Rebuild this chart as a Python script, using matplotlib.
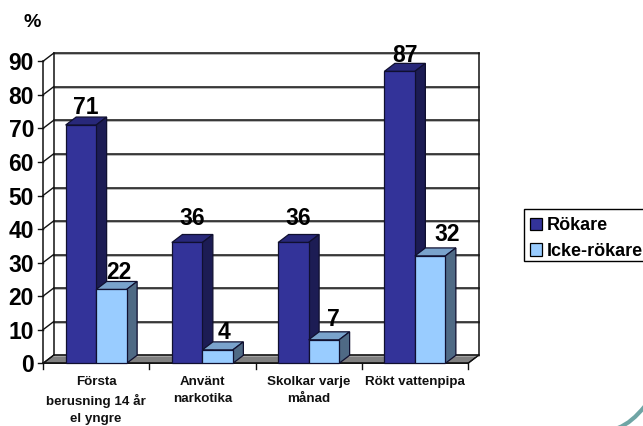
import matplotlib
matplotlib.use("Agg")
import matplotlib.pyplot as plt
from matplotlib.patches import Polygon, Patch, PathPatch, Rectangle
from matplotlib.path import Path
from matplotlib.transforms import Affine2D

plt.rcParams['font.family'] = ['Liberation Sans', 'DejaVu Sans']
plt.rcParams['font.weight'] = 'bold'

categories = ["Första\nberusning 14 år\nel yngre", "Använt\nnarkotika", "Skolkar varje\nmånad", "Rökt vattenpipa"]
rokare = [71, 36, 36, 87]
icke_rokare = [22, 4, 7, 32]
yticks = list(range(0, 100, 10))
series_names = ["Rökare", "Icke-rökare"]

W, H = 643, 426
fig = plt.figure(figsize=(W/100, H/100), dpi=100, facecolor='white')
# front plane of the 3D box in pixels
L, R, T, B = 43.0, 468.0, 61.3, 363.3
ax = fig.add_axes([L/W, 1-B/H, (R-L)/W, (B-T)/H])
ax.set_xlim(0, 4)
ax.set_ylim(0, 90)
ax.axis('off')

dx = 10.5/(R-L)*4
dy = 8.0/(B-T)*90
bw = 30.5/(R-L)*4
LC = '#111111'

# floor
ax.add_patch(Polygon([(0, 0), (dx, dy), (4+dx, dy), (4, 0)], closed=True, fc='#808080', ec='black', lw=0.8, clip_on=False, zorder=1))
# walls / gridlines
for v in yticks:
    ax.plot([dx, 4+dx], [v+dy, v+dy], color='#aaaaaa', lw=1.2, clip_on=False, zorder=1.5, transform=ax.transData + Affine2D().translate(0, -1))
    ax.plot([dx, 4+dx], [v+dy, v+dy], color=LC, lw=1.1, clip_on=False, zorder=2)
    ax.plot([0, dx], [v, v+dy], color=LC, lw=1.0, clip_on=False, zorder=2)
    ax.plot([-5.5/(R-L)*4, 0], [v, v], color=LC, lw=1.0, clip_on=False, zorder=2)
    ax.text(-9/(R-L)*4, v, str(v), ha='right', va='center_baseline', fontsize=16.5, color='black', clip_on=False)
ax.plot([0, 0], [0, 90], color=LC, lw=1.1, clip_on=False, zorder=2)
ax.plot([dx, dx], [dy, 90+dy], color=LC, lw=1.1, clip_on=False, zorder=2)
ax.plot([4+dx, 4+dx], [dy, 90+dy], color=LC, lw=1.1, clip_on=False, zorder=2)
ax.plot([0, 4], [0, 0], color=LC, lw=1.1, clip_on=False, zorder=2)
ax.plot([4, 4+dx], [0, dy], color=LC, lw=1.0, clip_on=False, zorder=2)
for i in range(5):
    ax.plot([i, i], [0, -6/(B-T)*90], color=LC, lw=1.0, clip_on=False, zorder=2)


def bar3d(x, v, front, top, side, z, nudge):
    ax.bar(x, v, width=bw, align='edge', color=front, edgecolor='#101030', lw=0.9, zorder=z+.2, clip_on=False)
    ax.add_patch(Polygon([(x, v), (x+dx, v+dy), (x+bw+dx, v+dy), (x+bw, v)], closed=True, fc=top, ec='#101030', lw=0.9, zorder=z, clip_on=False))
    ax.add_patch(Polygon([(x+bw, 0), (x+bw+dx, dy), (x+bw+dx, v+dy), (x+bw, v)], closed=True, fc=side, ec='#101030', lw=0.9, zorder=z, clip_on=False))
    ax.annotate(str(v), (x+bw/2+dx/2, v+dy), xytext=(nudge[0]*0.72, 2+nudge[1]*0.72), textcoords='offset points', ha='center', va='baseline',
                fontsize=16.5, color='black', zorder=20, annotation_clip=False)


# hand-placed data label shifts (pixels), as in the reference
nudge_a = [(0, 0), (0, 7), (0, 7), (0, -1)]
nudge_b = [(2, 0), (1, 0), (4, 3), (12, 4)]
for i, (a, b) in enumerate(zip(rokare, icke_rokare)):
    bar3d(i+0.5-bw, a, '#333399', '#28287A', '#1C1C54', 3, nudge_a[i])
    bar3d(i+0.5, b, '#99CCFF', '#7AA3CC', '#4F6A85', 4, nudge_b[i])
    ax.text(i+0.5, -3.9, categories[i], ha='center', va='top', fontsize=9.6, color='#111111', linespacing=1.55, clip_on=False)

fig.text(23/W, 1-27/H, "%", fontsize=14, color='black', ha='left', va='baseline')

# legend frame runs past the right edge of the picture, as in the reference
pix = Affine2D().scale(1, -1).translate(0, H)
fig.add_artist(Rectangle((524.3, 209), 130, 52, transform=pix, fc='white', ec='black', lw=1.0, clip_on=True))
handles = [Patch(fc='#333399', ec='black', lw=0.9), Patch(fc='#99CCFF', ec='black', lw=0.9)]
leg = fig.legend(handles, series_names, loc='upper left', bbox_to_anchor=(529.8/W, 1-217/H), bbox_transform=fig.transFigure,
                 fontsize=13, frameon=False, borderaxespad=0,
                 handlelength=0.66, handleheight=0.66, handletextpad=0.3, borderpad=0, labelspacing=0.49)
leg.set_zorder(5)

# decorative arc in the lower right corner
arc = Path([(618, 428), (628, 424), (636, 417), (645, 406)], [Path.MOVETO, Path.CURVE4, Path.CURVE4, Path.CURVE4])
fig.add_artist(PathPatch(arc, transform=pix, fc='none', ec='#6FA5A5', lw=3.0, clip_on=False))

fig.savefig('out.png', dpi=100)
